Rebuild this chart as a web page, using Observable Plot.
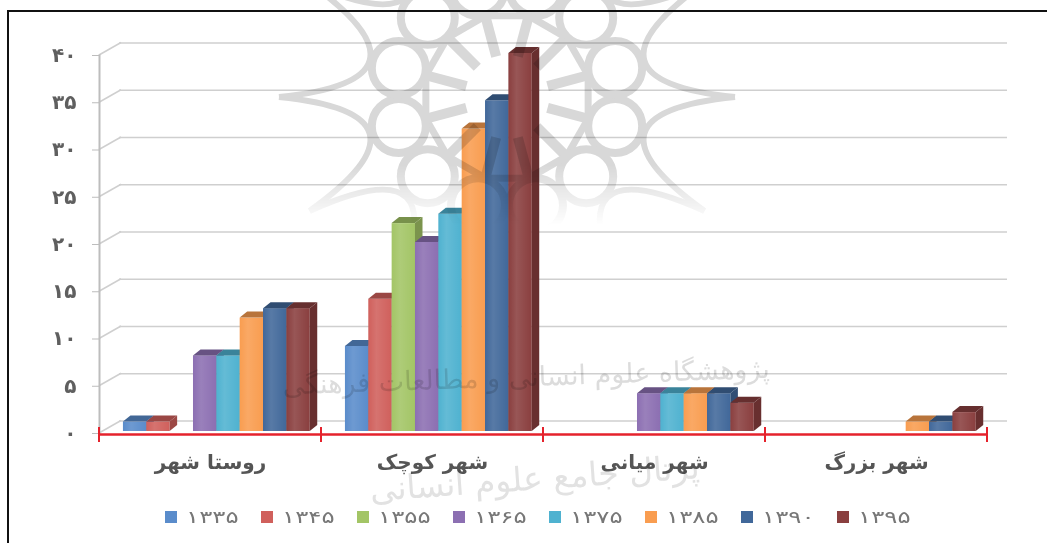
<!DOCTYPE html>
<html lang="fa">
<head>
<meta charset="utf-8">
<script src="https://cdn.jsdelivr.net/npm/d3@7"></script>
<script src="https://cdn.jsdelivr.net/npm/@observablehq/plot@0.6"></script>
<style>
  html, body { margin: 0; padding: 0; background: #fff; overflow: hidden; }
  #page { position: relative; width: 1047px; height: 543px; overflow: hidden; font-family: "DejaVu Sans", sans-serif; }
  #border { position: absolute; left: 7px; top: 10px; right: 0; bottom: 0; border-left: 2px solid #111; border-top: 2px solid #111; }
  #chart svg { display: block; filter: blur(0.5px); }
  #legend { display: flex; height: 50px; padding-left: 165px; padding-top: 17px; box-sizing: border-box; filter: blur(0.4px); }
  .item { width: 96px; display: flex; align-items: center; gap: 9px; color: #777; font-size: 17px; height: 14px; white-space: nowrap; }
  .item .lab { display: inline-block; transform: scaleX(1.44); transform-origin: left center; }
  .sw { width: 12px; height: 12px; display: inline-block; flex: none; }
  #wm { position: absolute; left: 0; top: 0; mix-blend-mode: multiply; pointer-events: none; filter: blur(0.7px); }
</style>
</head>
<body>
<div id="page">
  <div id="chart"></div>
  <div id="legend"></div>
  <div id="border"></div>
</div>
<script>
const groups = ["روستا شهر", "شهر کوچک", "شهر میانی", "شهر بزرگ"];
const years = ["۱۳۳۵", "۱۳۴۵", "۱۳۵۵", "۱۳۶۵", "۱۳۷۵", "۱۳۸۵", "۱۳۹۰", "۱۳۹۵"];
const colors = ["#5a8ccb", "#d0605c", "#a3c566", "#8c6fb2", "#4fb2d0", "#f99d50", "#41689a", "#8a3f3f"];
const rustaShahr = [1, 1, 0, 8, 8, 12, 13, 13];
const shahrKuchak = [9, 14, 22, 20, 23, 32, 35, 40];
const shahrMiani = [0, 0, 0, 4, 4, 4, 4, 3];
const shahrBozorg = [0, 0, 0, 0, 0, 1, 1, 2];
const yTicks = [0, 5, 10, 15, 20, 25, 30, 35, 40];

const series = [rustaShahr, shahrKuchak, shahrMiani, shahrBozorg];
const rows = groups.flatMap((group, g) =>
  years.map((year, i) => ({group, year, value: series[g][i]})).filter(d => d.value > 0));
const faDigits = n => String(n).replace(/\d/g, d => "۰۱۲۳۴۵۶۷۸۹"[d]).replace(/۰/g, "٠");

const SVGNS = "http://www.w3.org/2000/svg";
const el = (name, attrs) => {
  const e = document.createElementNS(SVGNS, name);
  for (const k in attrs) e.setAttribute(k, attrs[k]);
  return e;
};
const DEPTH_X = 7.5, DEPTH_Y = 6;

function bar3d(index, scales, values, dims, ctx, next) {
  const g = next(index, scales, values, dims, ctx);
  g.querySelectorAll("rect").forEach(r => {
    const x = +r.getAttribute("x"), y = +r.getAttribute("y");
    const w = +r.getAttribute("width"), h = +r.getAttribute("height");
    const c = r.getAttribute("fill");
    const top = el("polygon", {
      points: `${x},${y} ${x + DEPTH_X},${y - DEPTH_Y} ${x + w + DEPTH_X},${y - DEPTH_Y} ${x + w},${y}`,
      fill: d3.color(c).darker(0.85).formatHex()
    });
    const side = el("polygon", {
      points: `${x + w},${y} ${x + w + DEPTH_X},${y - DEPTH_Y} ${x + w + DEPTH_X},${y + h - DEPTH_Y} ${x + w},${y + h}`,
      fill: d3.color(c).darker(0.8).formatHex()
    });
    const shine = el("rect", {x, y, width: w, height: h, fill: "url(#shine)"});
    const after = r.nextSibling;
    g.insertBefore(shine, after);
    g.insertBefore(top, after);
    g.insertBefore(side, after);
  });
  return g;
}

function gridDiagonals(index, scales, values, dims, ctx, next) {
  const g = el("g", {stroke: "#cfcfcf", "stroke-width": 1.5});
  yTicks.forEach(t => {
    const y = scales.y(t);
    g.appendChild(el("line", {x1: dims.marginLeft, y1: y, x2: dims.marginLeft + 22, y2: y - 12.5}));
  });
  return g;
}

function redTicks(index, scales, values, dims, ctx, next) {
  const g = next(index, scales, values, dims, ctx);
  const wrap = el("g", {stroke: "#e5222c", "stroke-width": 2});
  const y = scales.y(0);
  [dims.marginLeft, dims.width - dims.marginRight].forEach(x =>
    wrap.appendChild(el("line", {x1: x, x2: x, y1: y - 6, y2: y + 9})));
  wrap.appendChild(g);
  return wrap;
}

const chart = Plot.plot({
  width: 1047,
  height: 493,
  marginLeft: 98,
  marginRight: 59,
  marginTop: 55,
  marginBottom: 60,
  style: {background: "transparent", fontFamily: "DejaVu Sans"},
  fx: {domain: groups, padding: 0, label: null},
  x: {domain: years, axis: null, paddingInner: 0, paddingOuter: 0.754, align: 0.68, round: false},
  y: {domain: [0, 40], label: null},
  color: {domain: years, range: colors},
  marks: [
    Plot.ruleY(yTicks, {dx: 20, dy: -12.5, stroke: "#cfcfcf", strokeWidth: 1.5}),
    Plot.ruleY(yTicks, {fx: () => groups[0], render: gridDiagonals}),
    Plot.frame({anchor: "left", facet: "super", stroke: "#bdbdbd", strokeWidth: 2}),
    Plot.axisY({ticks: yTicks, tickFormat: faDigits, label: null, tickSize: 7, tickPadding: 16, stroke: "#bdbdbd", fill: "#5f5f5f", fontSize: 20, fontWeight: "bold"}),
    Plot.axisFx({anchor: "bottom", label: null, tickSize: 0, tickPadding: 21, fill: "#555", fontSize: 20, fontWeight: "bold"}),
    Plot.ruleY([0], {dy: 1, stroke: "#e5222c", strokeWidth: 2.5, render: redTicks}),
    Plot.barY(rows, {fx: "group", x: "year", y: "value", fill: "year", dy: -2, render: bar3d})
  ]
});
document.getElementById("chart").appendChild(chart);

const legend = d3.select("#legend");
years.forEach((year, i) => {
  const item = legend.append("div").attr("class", "item");
  item.append("span").attr("class", "sw").style("background", colors[i]);
  item.append("span").attr("class", "lab").text(year);
});

// Watermark printed over the page (not data): logo and faint institute lettering.
const wm = d3.select("#page").append("svg").attr("id", "wm").attr("width", 1047).attr("height", 543);
const defs = wm.append("defs");
const shine = defs.append("linearGradient").attr("id", "shine");
[[0, 0], [0.35, 0.12], [1, 0]].forEach(([o, a]) =>
  shine.append("stop").attr("offset", o).attr("stop-color", "#fff").attr("stop-opacity", a));
const fade = defs.append("linearGradient").attr("id", "fade").attr("x1", 0).attr("x2", 0)
  .attr("gradientUnits", "userSpaceOnUse").attr("y1", 165).attr("y2", 225);
fade.append("stop").attr("offset", 0).attr("stop-color", "#fff");
fade.append("stop").attr("offset", 1).attr("stop-color", "#000");
defs.append("mask").attr("id", "logoFade").attr("maskUnits", "userSpaceOnUse")
  .attr("x", 0).attr("y", 0).attr("width", 1047).attr("height", 543)
  .append("rect").attr("width", 1047).attr("height", 543).attr("fill", "url(#fade)");
const logo = wm.append("g").attr("mask", "url(#logoFade)").append("g")
  .attr("transform", "translate(507,97)").attr("fill", "none").attr("stroke", "#d8d8d8").attr("stroke-width", 8);
const polar = (r, deg) => [r * Math.cos(deg * Math.PI / 180), r * Math.sin(deg * Math.PI / 180)];
d3.range(12).forEach(k => {
  const a = 15 + 30 * k;
  const [cx, cy] = polar(112, a);
  logo.append("circle").attr("cx", cx).attr("cy", cy).attr("r", 27);
  const [sx, sy] = polar(228, a - 15), [mx, my] = polar(64, a), [ex, ey] = polar(228, a + 15);
  logo.append("path").attr("d", `M${sx},${sy} Q${mx},${my} ${ex},${ey}`).attr("stroke-width", 6);
  const [s1x, s1y] = polar(42, a), [s2x, s2y] = polar(84, a);
  logo.append("path").attr("d", `M${s1x},${s1y} L${s2x},${s2y}`).attr("stroke-width", 10);
  const [d1x, d1y] = polar(84, a), [d2x, d2y] = polar(84, a + 30);
  logo.append("path").attr("d", `M${d1x},${d1y} L${d2x},${d2y}`).attr("stroke-width", 7);
});
wm.append("text").attr("x", 770).attr("y", 386).attr("direction", "rtl").attr("text-anchor", "start")
  .attr("transform", "rotate(-2 530 380)").attr("font-size", 27).attr("fill", "#dcdcdc").attr("font-family", "DejaVu Sans")
  .text("پژوهشگاه علوم انسانی و مطالعات فرهنگی");
wm.append("text").attr("x", 700).attr("y", 490).attr("direction", "rtl").attr("text-anchor", "start")
  .attr("transform", "rotate(-4 530 480)").attr("font-size", 33).attr("fill", "#e2e2e2").attr("font-family", "DejaVu Sans")
  .text("پرتال جامع علوم انسانی");
</script>
</body>
</html>
